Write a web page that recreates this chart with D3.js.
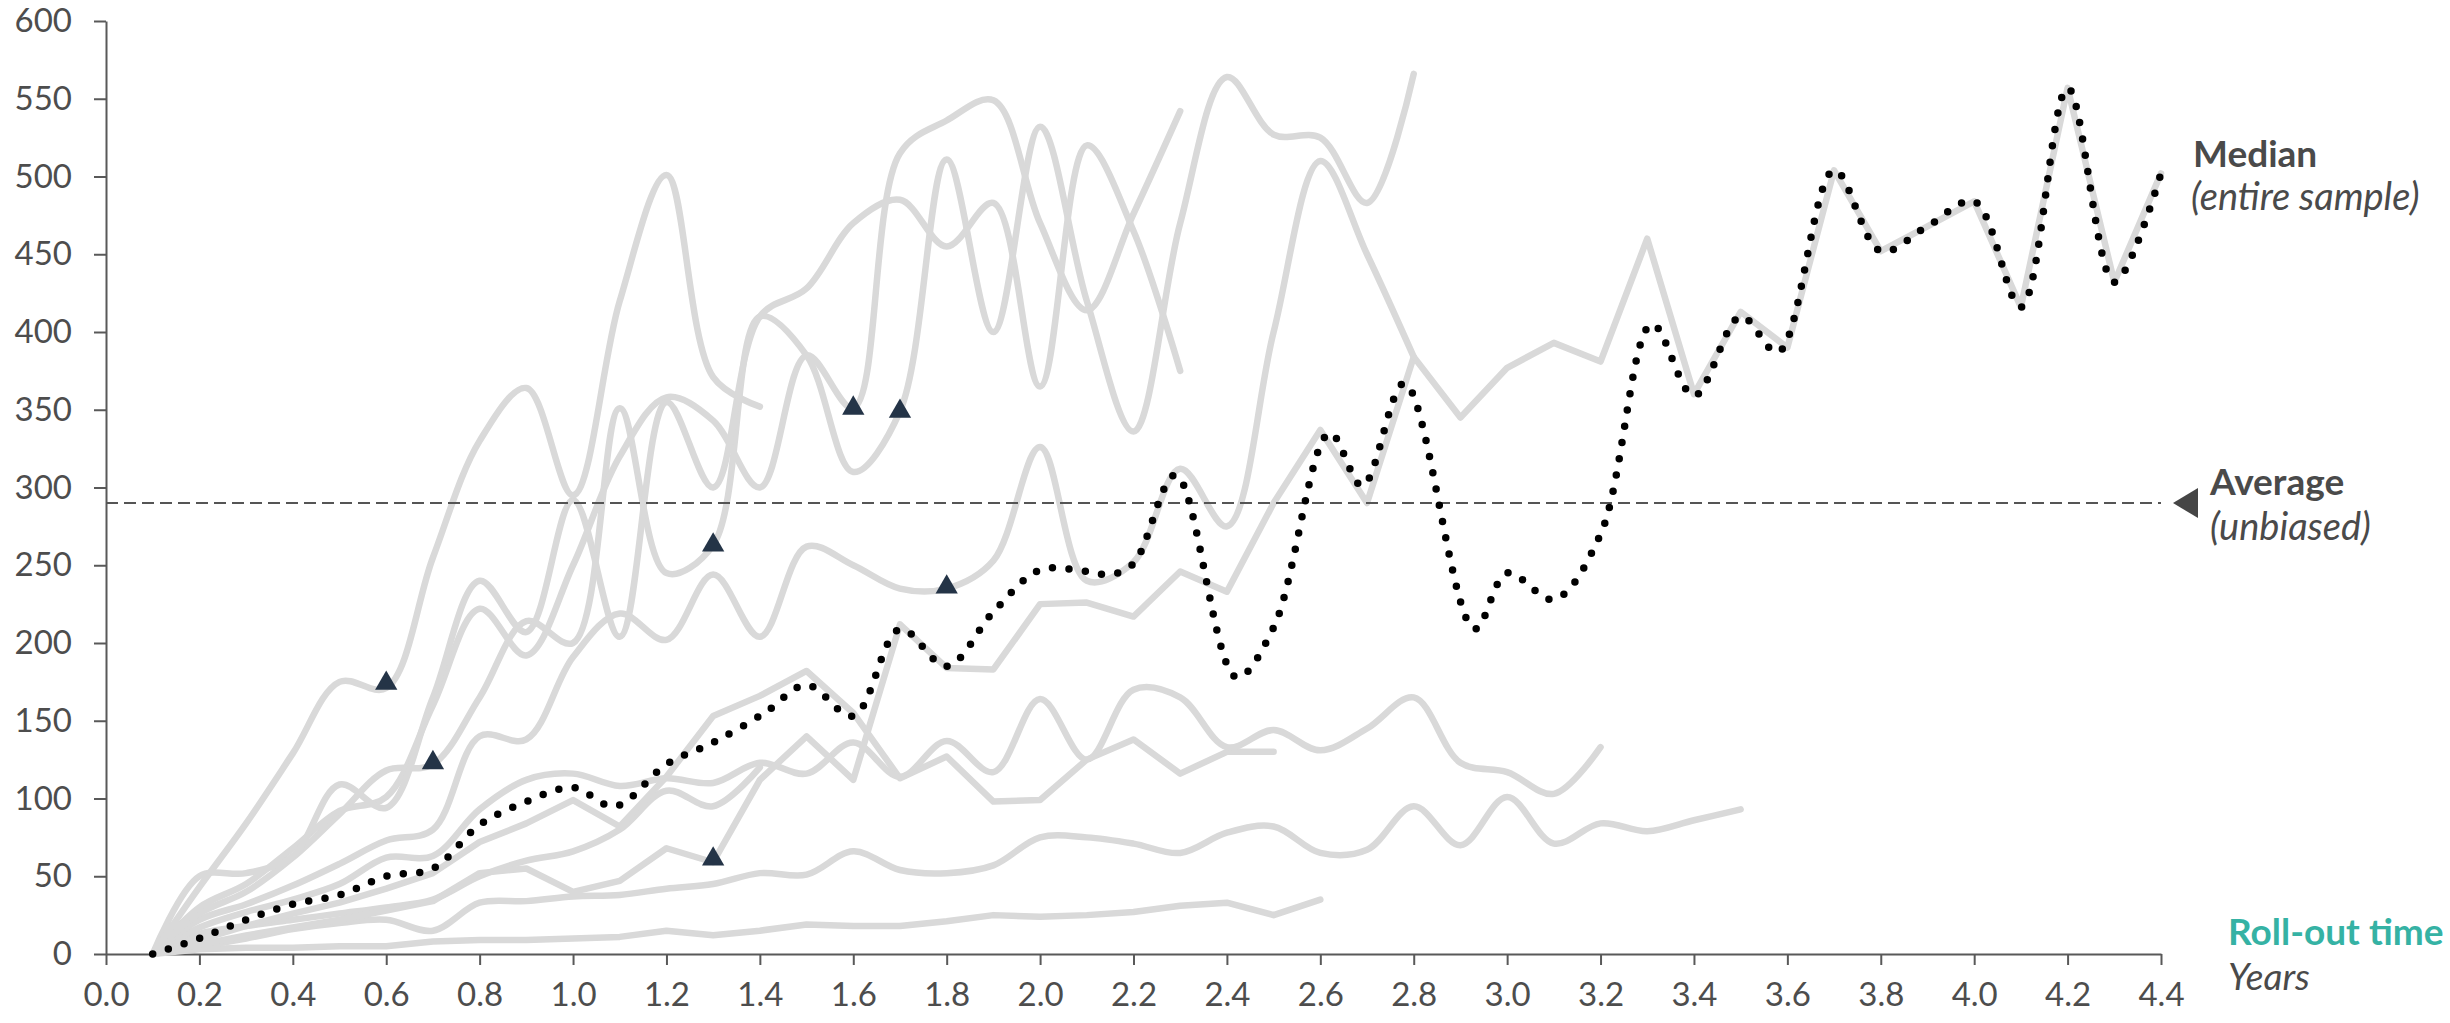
<!DOCTYPE html>
<html><head><meta charset="utf-8">
<script src="https://cdn.jsdelivr.net/npm/d3@7"></script>
<style>
html,body{margin:0;padding:0;background:#fff;}
svg{display:block;font-family:Lato,'Open Sans',sans-serif;}
</style></head><body>
<svg id="chart" width="2450" height="1023"></svg>
<script>
// ---------- DATA ----------
const years = [0.1,0.2,0.3,0.4,0.5,0.6,0.7,0.8,0.9,1.0,1.1,1.2,1.3,1.4,1.5,1.6,1.7,1.8,1.9,2.0,2.1,2.2,
               2.3,2.4,2.5,2.6,2.7,2.8,2.9,3.0,3.1,3.2,3.3,3.4,3.5,3.6,3.7,3.8,3.9,4.0,4.1,4.2,4.3,4.4];
const xTicks = [0.0,0.2,0.4,0.6,0.8,1.0,1.2,1.4,1.6,1.8,2.0,2.2,2.4,2.6,2.8,3.0,3.2,3.4,3.6,3.8,4.0,4.2,4.4];
const yTicks = [0,50,100,150,200,250,300,350,400,450,500,550,600];

const sampleA = [0,43,84,129,175,171,255,330,364,295,420,501,371,352];
const sampleB = [0,50,52,63,109,94,165,240,207,292,204,355,300,410,428,470,485,455,483,365,520,465,375];
const sampleC = [0,30,45,68,92,101,160,222,192,250,320,358,343,300,385,351,515,536,549,470,414,476,542];
const sampleD = [0,26,40,62,90,118,122,165,214,200,351,245,263,410,385,310,349,511,400,532,420,336,470,564,527,525,483,566];
const sampleE = [0,22,32,44,58,73,80,140,138,191,219,202,244,204,262,250,235,235,253,326,240,252,312,275,400,510,450,384];
const sampleG = [0,17,27,35,45,62,63,93,112,116,108,113,110,123,116,136,114,137,117,164,125,170,165,133,144,131,145,165,123,117,103,133];
const sampleH = [0,9,18,26,33,42,52,72,84,99,82,114,153,166,182,155,113,127,98,99,125,138,116,130,130];
const sampleK = [0,6,12,17,22,28,34,52,55,40,47,68,59,112,140,112,212,184,183,225,226,217,246,233,290,337,290,384,
                 345,377,393,381,460,360,413,390,504,452,468,484,416,557,432,502];
const sampleM = [0,13,18,22,26,30,35,50,60,66,80,105,95,120];
const sampleL1 = [0,3,4,4,5,5,8,9,9,10,11,15,12,15,19,18,18,21,25,24,25,27,31,33,25,35];
const sampleL2 = [0,5,10,16,20,22,15,33,34,37,38,42,45,52,51,66,54,52,57,75,75,71,65,78,82,65,67,95,70,101,71,84,79,86,93];

const medianYears = [0.1,0.2,0.3,0.4,0.5,0.6,0.7,0.8,0.9,1.0,1.09,1.2,1.3,1.41,1.5,1.6,1.7,1.8,1.9,2.0,
                     2.1,2.15,2.2,2.29,2.42,2.5,2.62,2.69,2.78,2.93,3.0,3.1,3.2,3.31,3.4,3.5,3.58,3.7,3.8,3.9,
                     4.0,4.1,4.2,4.3,4.4];
const medianValues = [0,10,22,32,38,50,55,83,98,107,95,122,136,155,173,153,209,185,220,247,
                      246,244,251,308,178,210,335,301,367,209,245,228,270,405,359,410,387,504,452,468,
                      484,416,557,432,502];

const averageValue = 290;
const markerYears = [0.6,0.7,1.3,1.6,1.7,1.8,1.3];
const markerValues = [174,123,263,351,349,236,61];

// ---------- CHART ----------
const svg = d3.select('#chart');
svg.append('rect').attr('width',2450).attr('height',1023).attr('fill','#fff');

const x = d3.scaleLinear().domain([0,4.4]).range([106,2161]);
const y = d3.scaleLinear().domain([0,600]).range([954,21]);

const axisColor = '#595959', textColor = '#4d4d4d';

const yAxis = d3.axisLeft(y).tickValues(yTicks).tickSize(12).tickSizeOuter(0).tickPadding(22);
const gy = svg.append('g').attr('transform','translate(106,0)').call(yAxis);
const xAxis = d3.axisBottom(x).tickValues(xTicks).tickSize(11).tickSizeOuter(0).tickPadding(18).tickFormat(d3.format('.1f'));
const gx = svg.append('g').attr('transform','translate(0,954)').call(xAxis);
[gx,gy].forEach(g=>{
  g.select('.domain').attr('stroke',axisColor).attr('stroke-width',2);
  g.selectAll('.tick line').attr('stroke',axisColor).attr('stroke-width',2);
  g.selectAll('.tick text').attr('fill',textColor).attr('font-size',33).attr('font-family','Lato');
});

const smooth = d3.curveCatmullRom.alpha(0.5);
const samples = [
  {v:sampleL1, c:d3.curveLinear},
  {v:sampleL2, c:smooth},
  {v:sampleM,  c:smooth},
  {v:sampleH,  c:d3.curveLinear},
  {v:sampleG,  c:smooth},
  {v:sampleK,  c:d3.curveLinear},
  {v:sampleE,  c:smooth},
  {v:sampleD,  c:smooth},
  {v:sampleC,  c:smooth},
  {v:sampleB,  c:smooth},
  {v:sampleA,  c:smooth}
];
const gLines = svg.append('g');
samples.forEach(s=>{
  const line = d3.line().x(d=>x(d[0])).y(d=>y(d[1])).curve(s.c);
  gLines.append('path').datum(s.v.map((v,i)=>[years[i],v]))
    .attr('d',line).attr('fill','none').attr('stroke','#d9d9d9')
    .attr('stroke-width',6.5).attr('stroke-linecap','round').attr('stroke-linejoin','round');
});

// average dashed line
svg.append('line').attr('x1',x(0)).attr('x2',x(4.4)).attr('y1',y(averageValue)).attr('y2',y(averageValue))
  .attr('stroke','#555').attr('stroke-width',2).attr('stroke-dasharray','12,6');
const ay = y(averageValue);
svg.append('path').attr('d',`M${x(4.4)+12},${ay} L${x(4.4)+37},${ay-15} L${x(4.4)+37},${ay+15} Z`).attr('fill','#454545');

// markers
const tri = d3.symbol().type(d3.symbolTriangle).size(215);
svg.append('g').selectAll('path').data(markerYears.map((d,i)=>[d,markerValues[i]])).join('path')
  .attr('d',tri).attr('transform',d=>`translate(${x(d[0])},${y(d[1])})`).attr('fill','#243447');

// median dotted
const mline = d3.line().x(d=>x(d[0])).y(d=>y(d[1])).curve(smooth);
svg.append('path').datum(medianYears.map((d,i)=>[d,medianValues[i]])).attr('d',mline)
  .attr('fill','none').attr('stroke','#000').attr('stroke-width',7.5)
  .attr('stroke-linecap','round').attr('stroke-dasharray','0,16.5');

// labels
function label(tx,ty,txt,opts){
  const t = svg.append('text').attr('x',tx).attr('y',ty).text(txt)
    .attr('font-family','Lato').attr('font-size',opts.size||37).attr('fill',opts.fill||'#4a4a4a');
  if(opts.bold) t.attr('font-weight','bold');
  if(opts.italic) t.attr('font-style','italic');
}
label(2193,167,'Median',{bold:true,size:37});
label(2191,210,'(entire sample)',{italic:true,size:38});
label(2210,495,'Average',{bold:true,size:37});
label(2210,540,'(unbiased)',{italic:true,size:38});
label(2228,945,'Roll-out time',{bold:true,fill:'#35b2a4',size:37});
label(2228,990,'Years',{italic:true,size:37});
</script>
</body></html>
